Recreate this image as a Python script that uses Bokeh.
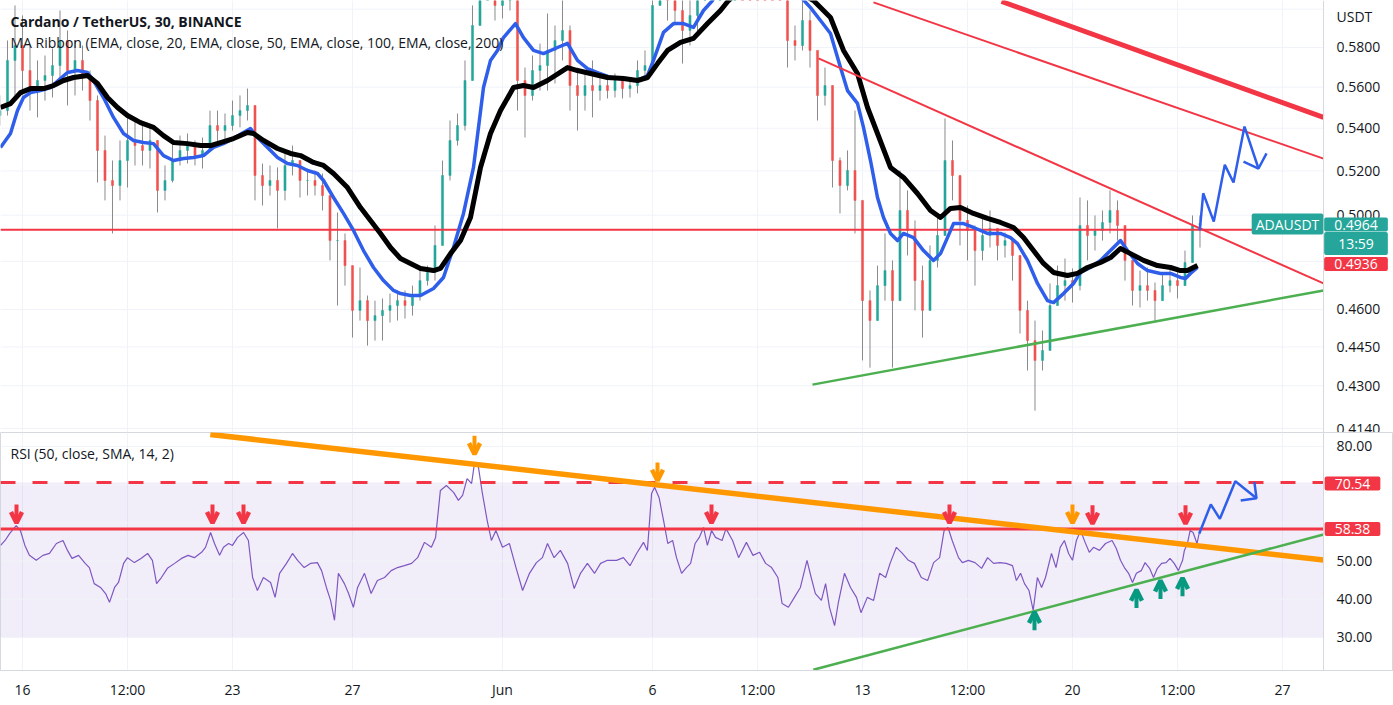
from bokeh.plotting import figure
from bokeh.layouts import column
from bokeh.models import (Range1d, FixedTicker, Label, Span,
                          BoxAnnotation, Arrow, OpenHead, ColumnDataSource)
from bokeh.core.properties import value
from bokeh.embed import file_html
from bokeh.resources import INLINE

# ---------------- time axis (days since 16 May, 00:00) ----------------
x_ticks = [0, 3.5, 7, 11, 16, 21, 24.5, 28, 31.5, 35, 38.5, 42]
x_tick_labels = ["16", "12:00", "23", "27", "Jun", "6", "12:00", "13", "12:00", "20", "12:00", "27"]
X_START = -0.733     # left edge of the chart
X_AXIS = 43.367      # where the price scale begins
X_END = 45.7         # right edge of the window
X_LBL = 43.8         # where price-scale labels start

# ---------------- price candles (6-hour steps) ----------------
candle_t = [round(-0.75 + 0.25 * i, 2) for i in range(161)]
first_open = 0.5461
candle_close = [
    .5485, .5734, .5810, .5683, .5583, .5633, .5658, .5708, .5836, .5683,
    .5734, .5658, .5534, .5295, .5156, .5133, .5248, .5342, .5318, .5295,
    .5342, .5111, .5156, .5248, .5295, .5318, .5271, .5295, .5413, .5389,
    .5413, .5461, .5485, .5510, .5179, .5133, .5156, .5111, .5225, .5248,
    .5156, .5156, .5133, .5088, .4889, .4889, .4782, .4596, .4636, .4555,
    .4575, .4596, .4616, .4636, .4616, .4657, .4719, .4753, .4868, .5179,
    .5342, .5413, .5633, .5914, .6073, .6154, .6020, .6073, .6100, .5633,
    .5559, .5683, .5708, .5785, .5836, .5888, .5608, .5559, .5608, .5583,
    .5608, .5583, .5633, .5593, .5608, .5683, .5708, .6020, .6154, .6046,
    .5993, .5888, .5967, .6046, .6264, .6320, .6348, .6376, .6376, .6348,
    .6320, .6292, .6264, .6209, .6154, .5836, .5810, .5940, .5785, .5559,
    .5608, .5248, .5133, .5202, .5066, .4636, .4555, .4698, .4761, .4636,
    .5021, .4933, .4719, .4596, .4804, .4911, .5248, .5179, .4977, .4933,
    .4846, .4911, .4942, .4868, .4889, .4825, .4596, .4475, .4397, .4436,
    .4616, .4698, .4719, .4698, .4955, .4911, .4933, .4968, .5021, .4955,
    .4804, .4678, .4698, .4678, .4636, .4698, .4719, .4698, .4795, .4955,
    .4964]
candle_high = [
    .5559, .5836, .6020, .5967, .5810, .5734, .5759, .5795, .5993, .5888,
    .5836, .5810, .5683, .5559, .5365, .5248, .5342, .5452, .5437, .5413,
    .5404, .5342, .5225, .5327, .5365, .5375, .5342, .5356, .5485, .5485,
    .5471, .5534, .5559, .5593, .5510, .5234, .5225, .5216, .5295, .5318,
    .5248, .5211, .5202, .5188, .5088, .5012, .4920, .4761, .4774, .4657,
    .4636, .4645, .4665, .4678, .4678, .4698, .4774, .4782, .4955, .5248,
    .5437, .5471, .5734, .6020, .6209, .6292, .6237, .6209, .6264, .6154,
    .5698, .5759, .5820, .5977, .5914, .6073, .5914, .5698, .5683, .5734,
    .5668, .5658, .5668, .5643, .5638, .5734, .5785, .6127, .6264, .6209,
    .6154, .6100, .6127, .6209, .6348, .6404, .6433, .6461, .6461, .6433,
    .6404, .6376, .6348, .6292, .6237, .6046, .5914, .6046, .5993, .5785,
    .5698, .5559, .5262, .5295, .5485, .4933, .4678, .4782, .4920, .4804,
    .5202, .5111, .4977, .4782, .4868, .4999, .5447, .5342, .5156, .5043,
    .4955, .4999, .5021, .4933, .4924, .4898, .4804, .4636, .4555, .4515,
    .4707, .4782, .4812, .4770, .5079, .5066, .4999, .5021, .5111, .5066,
    .4946, .4782, .4761, .4774, .4711, .4749, .4782, .4761, .4846, .4999,
    .4999]
candle_low = [
    .5413, .5461, .5534, .5559, .5485, .5452, .5534, .5549, .5633, .5510,
    .5559, .5583, .5437, .5147, .5066, .4920, .5066, .5124, .5225, .5225,
    .5211, .5012, .5066, .5147, .5225, .5234, .5225, .5211, .5295, .5332,
    .5327, .5389, .5404, .5437, .5066, .5043, .5088, .4942, .5066, .5179,
    .5079, .5088, .5088, .5021, .4804, .4616, .4698, .4487, .4555, .4455,
    .4475, .4475, .4547, .4555, .4563, .4575, .4636, .4698, .4719, .4933,
    .5156, .5318, .5389, .5683, .5967, .6073, .5940, .5951, .5993, .5485,
    .5356, .5534, .5583, .5583, .5618, .5734, .5485, .5389, .5485, .5452,
    .5534, .5544, .5549, .5544, .5549, .5569, .5633, .5683, .6046, .5940,
    .5914, .5718, .5810, .5862, .6182, .6237, .6264, .6292, .6292, .6264,
    .6237, .6209, .6182, .6127, .6073, .5698, .5734, .5785, .5698, .5437,
    .5510, .5124, .5008, .5111, .4920, .4397, .4369, .4555, .4636, .4369,
    .4782, .4825, .4596, .4487, .4636, .4774, .4955, .5066, .4868, .4804,
    .4698, .4804, .4859, .4804, .4816, .4719, .4503, .4358, .4206, .4358,
    .4455, .4616, .4636, .4628, .4678, .4804, .4846, .4889, .4920, .4889,
    .4719, .4616, .4608, .4636, .4555, .4636, .4670, .4645, .4698, .4804,
    .4859]

# ---------------- MA ribbon lines ----------------
blue_t = [-0.733, -0.4, -0.167, 0.033, 0.267, 0.6, 0.933, 1.267, 1.5, 1.833,
          2.167, 2.367, 2.7, 3.033, 3.367, 3.7, 4.033, 4.367, 4.7, 5.033,
          5.367, 5.7, 6.033, 6.367, 6.7, 7.033, 7.367, 7.6, 7.833, 8.167,
          8.5, 8.833, 9.167, 9.5, 9.833, 10.033, 10.367, 10.7, 11.033, 11.367,
          11.7, 12.033, 12.367, 12.6, 12.933, 13.267, 13.7, 14.033, 14.367, 14.7,
          15.033, 15.367, 15.6, 15.833, 16.033, 16.433, 16.7, 17.033, 17.367, 17.833,
          18.167, 18.5, 18.833, 19.167, 19.6, 20.033, 20.5, 20.833, 21.033, 21.367,
          21.7, 22.033, 22.367, 22.7, 23.0, 23.433, 24.1, 24.767, 25.6, 26.267,
          26.6, 26.933, 27.267, 27.5, 27.833, 28.033, 28.267, 28.5, 28.7, 28.933,
          29.167, 29.367, 29.7, 30.033, 30.367, 30.6, 30.833, 31.033, 31.367, 31.7,
          32.167, 32.6, 32.933, 33.167, 33.5, 33.833, 34.167, 34.367, 34.7, 35.033,
          35.267, 35.6, 35.933, 36.367, 36.6, 36.833, 37.167, 37.5, 37.933, 38.267,
          38.6, 38.767, 38.933, 39.167]
blue_p = [.5309, .5375, .5485, .5549, .5573, .5583, .5598, .5643, .5673, .5683,
          .5673, .5633, .5549, .5452, .5375, .5342, .5332, .5327, .5271, .5248,
          .5257, .5262, .5271, .5309, .5327, .5351, .5380, .5399, .5356, .5309,
          .5262, .5234, .5225, .5202, .5188, .5156, .5079, .5008, .4933, .4846,
          .4774, .4719, .4678, .4665, .4657, .4657, .4686, .4732, .4859, .5008,
          .5216, .5598, .5734, .5785, .5851, .5924, .5851, .5785, .5769, .5800,
          .5821, .5734, .5693, .5673, .5648, .5643, .5633, .5658, .5734, .5878,
          .5924, .5924, .5904, .5993, .6046, .6154, .6237, .6209, .6127, .6008,
          .5940, .5872, .5698, .5583, .5520, .5404, .5248, .5079, .4990, .4920,
          .4889, .4920, .4902, .4846, .4804, .4833, .4902, .4963, .4963, .4946,
          .4920, .4920, .4902, .4876, .4804, .4707, .4636, .4628, .4665, .4707,
          .4753, .4774, .4804, .4859, .4889, .4846, .4791, .4761, .4749, .4749,
          .4732, .4728, .4749, .4774]
black_t = [-0.733, -0.4, -0.067, 0.267, 0.7, 1.033, 1.367, 1.7, 2.167, 2.5,
           2.833, 3.167, 3.5, 3.933, 4.367, 4.7, 5.033, 5.5, 5.933, 6.267,
           6.6, 7.033, 7.5, 7.7, 8.033, 8.5, 8.933, 9.267, 9.7, 10.033,
           10.367, 10.833, 11.267, 11.6, 11.933, 12.267, 12.6, 12.933, 13.267, 13.7,
           13.933, 14.267, 14.6, 14.933, 15.267, 15.6, 15.933, 16.367, 16.7, 17.033,
           17.5, 18.167, 18.5, 18.933, 19.5, 20.033, 20.5, 20.833, 21.167, 21.5,
           21.933, 22.367, 22.833, 23.267, 23.533, 24.1, 24.933, 25.767, 26.367, 26.933,
           27.367, 27.833, 28.167, 28.5, 28.933, 29.367, 29.833, 30.267, 30.6, 30.933,
           31.267, 31.7, 32.167, 32.6, 33.033, 33.367, 33.7, 34.033, 34.367, 34.833,
           35.167, 35.5, 35.933, 36.267, 36.6, 36.933, 37.367, 37.833, 38.267, 38.6,
           38.833, 39.167]
black_p = [.5500, .5519, .5573, .5593, .5593, .5608, .5633, .5648, .5658, .5618,
           .5549, .5500, .5461, .5427, .5404, .5365, .5332, .5327, .5318, .5318,
           .5332, .5351, .5380, .5375, .5342, .5304, .5281, .5271, .5239, .5225,
           .5188, .5124, .5034, .4977, .4920, .4859, .4812, .4791, .4770, .4761,
           .4770, .4833, .4889, .4990, .5216, .5375, .5485, .5598, .5608, .5598,
           .5633, .5698, .5683, .5668, .5648, .5643, .5633, .5648, .5718, .5785,
           .5826, .5847, .5924, .5993, .6046, .6127, .6154, .6100, .6046, .5956,
           .5785, .5668, .5500, .5375, .5216, .5170, .5097, .5021, .4990, .5030,
           .5034, .5008, .4986, .4968, .4946, .4902, .4846, .4791, .4753, .4740,
           .4749, .4774, .4795, .4816, .4855, .4833, .4804, .4782, .4774, .4761,
           .4761, .4782]

# ---------------- drawings on the price pane ----------------
h_level_price = 0.4936
last_price = 0.4964
red_line_a_t, red_line_a_p = [26.533, 43.367], [0.5744, 0.4707]
red_line_b_t, red_line_b_p = [28.367, 43.367], [0.6036, 0.5257]
red_line_c_t, red_line_c_p = [32.633, 43.367], [0.6041, 0.5452]
green_line_t, green_line_p = [26.333, 43.367], [0.4304, 0.4678]
fc_price_t = [39.243, 39.357, 39.71, 40.077, 40.367, 40.733, 41.2]
fc_price_p = [0.4933, 0.5098, 0.4972, 0.5228, 0.5147, 0.5408, 0.5211]
fc_price_head_t = [40.7, 41.2, 41.467]
fc_price_head_p = [0.5243, 0.5211, 0.5281]

price_ticks = [0.58, 0.56, 0.54, 0.52, 0.50, 0.46, 0.445, 0.43, 0.414]
price_tick_labels = ["0.5800", "0.5600", "0.5400", "0.5200", "0.5000",
                     "0.4600", "0.4450", "0.4300", "0.4140"]
price_grid = [0.60, 0.58, 0.56, 0.54, 0.52, 0.50, 0.48, 0.46, 0.445, 0.43, 0.414]
P_LO, P_HI = 0.41254, 0.60463

# ---------------- RSI ----------------
rsi_t = [-0.73, -0.58, -0.43, -0.21, -0.07, 0.08, 0.23, 0.46, 0.68, 0.90,
         1.13, 1.35, 1.50, 1.65, 1.87, 2.09, 2.23, 2.39, 2.60, 2.77,
         2.90, 3.07, 3.20, 3.37, 3.50, 3.73, 3.95, 4.17, 4.33, 4.47,
         4.63, 4.83, 5.07, 5.30, 5.52, 5.73, 5.97, 6.10, 6.27, 6.40,
         6.57, 6.70, 6.87, 7.00, 7.17, 7.37, 7.53, 7.67, 7.83, 8.03,
         8.27, 8.42, 8.57, 8.80, 9.00, 9.17, 9.39, 9.60, 9.83, 9.97,
         10.13, 10.27, 10.40, 10.53, 10.73, 10.87, 11.03, 11.17, 11.40, 11.62,
         11.83, 12.07, 12.29, 12.50, 12.73, 12.97, 13.17, 13.40, 13.63, 13.77,
         13.93, 14.13, 14.37, 14.53, 14.67, 14.82, 14.97, 15.07, 15.20, 15.33,
         15.49, 15.63, 15.78, 16.00, 16.23, 16.45, 16.67, 16.90, 17.13, 17.33,
         17.50, 17.72, 17.93, 18.17, 18.39, 18.60, 18.83, 19.07, 19.27, 19.50,
         19.80, 20.03, 20.25, 20.47, 20.70, 20.83, 20.97, 21.07, 21.22, 21.37,
         21.51, 21.67, 21.80, 21.97,
         22.13, 22.27, 22.42, 22.56, 22.70, 22.83, 22.97, 23.10, 23.32, 23.45,
         23.67, 23.87, 24.13, 24.35, 24.57, 24.77, 24.97, 25.18, 25.32, 25.53,
         25.73, 25.93, 26.15, 26.29, 26.43, 26.63, 26.77, 26.90, 27.07, 27.19,
         27.40, 27.60, 27.80, 27.95, 28.16, 28.37, 28.57, 28.77, 28.92, 29.13,
         29.33, 29.53, 29.73, 29.96, 30.17, 30.37, 30.57, 30.72, 30.85, 30.99,
         31.20, 31.33, 31.53, 31.75, 31.97, 32.17, 32.37, 32.58, 32.79, 33.00,
         33.13, 33.27, 33.40, 33.55, 33.69, 33.83, 33.97, 34.10, 34.30, 34.45,
         34.59, 34.73, 34.87, 35.00, 35.13, 35.27, 35.42, 35.56, 35.70, 35.90,
         36.10, 36.32, 36.46, 36.60, 36.73, 36.87, 37.00, 37.13, 37.29, 37.42,
         37.57, 37.70, 37.83, 37.97, 38.12, 38.25, 38.39, 38.53, 38.67, 38.73,
         38.83, 38.92, 39.02, 39.15, 39.22]
rsi_v = [54.1, 55.4, 57.2, 59.3, 58.0, 54.1, 51.5, 50.2, 51.5, 52.0,
         54.6, 55.4, 52.8, 50.7, 51.5, 49.4, 48.3, 44.1, 43.1, 41.5,
         39.2, 43.1, 44.4, 49.4, 50.9, 49.6, 50.7, 52.0, 50.2, 44.1,
         45.7, 48.1, 49.4, 50.7, 51.5, 50.9, 52.3, 53.6, 57.5, 54.6,
         51.5, 53.6, 54.6, 54.1, 56.2, 57.5, 55.4, 45.7, 42.3, 45.7,
         44.4, 40.5, 46.8, 49.4, 52.0, 50.2, 48.3, 49.4, 49.6, 47.5,
         43.1, 39.7, 34.5, 46.8, 44.1, 41.5, 37.9, 43.1, 46.8, 41.5,
         44.9, 45.7, 47.5, 48.3, 48.8, 49.4, 50.9, 54.9, 53.6, 56.2,
         68.5, 69.8, 68.0, 65.9, 67.2, 71.6, 70.3, 75.8, 74.5, 67.7,
         60.6, 55.4, 58.0, 53.6, 54.6, 48.3, 42.3, 46.8, 49.6, 50.9,
         54.6, 50.9, 52.8, 49.4, 42.8, 46.8, 49.4, 46.8, 49.4, 50.2,
         50.2, 50.9, 48.8, 52.0, 54.9, 52.8, 67.7, 69.3, 66.6, 60.6,
         54.6, 55.4, 50.9, 46.8,
         48.3, 49.4, 54.6, 56.2, 58.8, 54.1, 58.0, 56.2, 55.4, 58.5,
         55.4, 50.9, 54.9, 51.5, 52.3, 49.4, 48.3, 45.7, 38.9, 37.9,
         40.5, 43.1, 50.2, 45.7, 41.5, 39.7, 44.1, 37.9, 33.1, 38.9,
         46.8, 43.1, 40.5, 36.5, 40.5, 39.7, 46.8, 45.7, 49.4, 53.6,
         52.0, 50.2, 49.4, 45.7, 44.9, 49.6, 50.9, 58.0, 58.8, 55.4,
         50.9, 49.6, 50.2, 49.6, 48.1, 50.9, 49.4, 49.6, 49.4, 48.8,
         44.9, 46.8, 44.1, 42.3, 37.1, 45.7, 43.1, 45.7, 52.0, 48.3,
         53.6, 55.4, 52.0, 50.2, 55.4, 58.0, 54.9, 52.3, 53.6, 52.8,
         54.6, 55.4, 53.3, 50.2, 48.3, 46.8, 44.4, 46.8, 47.5, 49.6,
         48.1, 45.7, 48.1, 49.4, 49.6, 50.7, 49.4, 47.5, 50.2, 52.8,
         54.6, 58.0, 57.5, 54.6, 57.2]
rsi_upper, rsi_mid, rsi_lower = 70.54, 58.38, 30.0
orange_t, orange_v = [6.26, 43.367], [83.14, 50.29]
rsi_green_t, rsi_green_v = [26.36, 43.367], [21.54, 56.96]
fc_rsi_t = [39.223, 39.61, 39.913, 40.427, 41.133]
fc_rsi_v = [57.15, 64.82, 61.07, 70.92, 66.47]
fc_rsi_head_t = [40.607, 41.133, 41.063]
fc_rsi_head_v = [65.86, 66.47, 70.65]
red_arrow_t = [-0.2, 6.333, 7.367, 22.967, 30.9, 35.667, 38.767]
red_arrow_v = [60.0, 60.0, 60.0, 60.0, 60.0, 59.8, 59.8]
orange_arrow_t = [15.067, 21.167, 35.0]
orange_arrow_v = [78.0, 71.0, 60.0]
green_arrow_t = [33.733, 37.133, 37.933, 38.667]
green_arrow_v = [36.7, 42.5, 44.9, 45.6]
rsi_ticks = [80, 50, 40, 30]
rsi_tick_labels = ["80.00", "50.00", "40.00", "30.00"]
rsi_grid = [30, 40, 50, 60, 70, 80]
R_LO, R_HI = 21.36, 83.66

# ---------------- styling ----------------
FONT = "Open Sans"
TXT = "#131722"
GRID = "#f0f3fa"
BORDER = "#d6d9e0"
UP, DOWN, WICK = "#26a69a", "#ef5350", "#8a8a8a"
RED, ORANGE, GREEN, TEAL = "#f23645", "#ff9800", "#4caf50", "#089981"
BLUE = "#2f5fea"

xr = Range1d(X_START, X_END)


def lab(fig, x, y, text, size="14px", style="normal", color=TXT, align="left", bg=None, pad=0):
    kw = dict(x=x, y=y, x_units="screen", y_units="screen", text=text,
              text_font=FONT, text_font_size=size, text_font_style=style,
              text_color=color, text_align=align, text_baseline="middle")
    if bg is not None:
        kw.update(background_fill_color=bg, background_fill_alpha=1.0, padding=pad,
                  border_radius=2)
    fig.add_layout(Label(**kw))


def axis_text(fig, ys, texts):
    fig.text(x=[X_LBL] * len(ys), y=ys, text=texts, text_font=value(FONT),
             text_font_size="14px", text_color=TXT, text_align="left",
             text_baseline="middle")


# ---------------- price pane ----------------
p1 = figure(width=1393, height=432, x_range=xr, y_range=Range1d(P_LO, P_HI),
            y_axis_type="log", y_axis_location=None, x_axis_location=None,
            toolbar_location=None, output_backend="svg",
            min_border_left=0, min_border_right=0, min_border_top=0, min_border_bottom=0)
p1.outline_line_color = None
p1.background_fill_color = "white"
p1.border_fill_color = "white"
p1.ygrid.visible = False
p1.xgrid.ticker = FixedTicker(ticks=x_ticks)
p1.xgrid.grid_line_color = GRID
p1.segment(x0=X_START, x1=X_AXIS, y0=price_grid, y1=price_grid, line_color=GRID, line_width=1)
p1.add_layout(Span(location=X_AXIS, dimension="height", line_color=BORDER, line_width=1))

opens = [first_open] + candle_close[:-1]
highs = [max(h, o, c) for h, o, c in zip(candle_high, opens, candle_close)]
lows = [min(l, o, c) for l, o, c in zip(candle_low, opens, candle_close)]
colors = [UP if c >= o else DOWN for o, c in zip(opens, candle_close)]
src = ColumnDataSource(dict(t=candle_t, h=highs, l=lows,
                            top=[max(o, c) for o, c in zip(opens, candle_close)],
                            bot=[min(o, c) for o, c in zip(opens, candle_close)],
                            col=colors))
p1.segment(x0="t", y0="l", x1="t", y1="h", source=src, line_color=WICK, line_width=1)
p1.vbar(x="t", width=0.07, top="top", bottom="bot", source=src,
        fill_color="col", line_color="col", line_width=0.5)

p1.segment(x0=X_START, x1=X_AXIS, y0=h_level_price, y1=h_level_price, line_color=RED, line_width=2)
p1.line(blue_t, blue_p, line_color=BLUE, line_width=3.5, line_join="round")
p1.line(black_t, black_p, line_color="black", line_width=5, line_join="round")
p1.line(red_line_a_t, red_line_a_p, line_color=RED, line_width=2)
p1.line(red_line_b_t, red_line_b_p, line_color=RED, line_width=2)
p1.line(red_line_c_t, red_line_c_p, line_color=RED, line_width=5)
p1.line(green_line_t, green_line_p, line_color=GREEN, line_width=2.5)
p1.line(fc_price_t, fc_price_p, line_color=BLUE, line_width=2.5)
p1.line(fc_price_head_t, fc_price_head_p, line_color=BLUE, line_width=2.5)

axis_text(p1, price_ticks, price_tick_labels)

lab(p1, 10, 432 - 21, "Cardano / TetherUS, 30, BINANCE", style="bold")
lab(p1, 10, 432 - 42, "MA Ribbon (EMA, close, 20, EMA, close, 50, EMA, close, 100, EMA, close, 200)")
lab(p1, 1336, 432 - 16, "USDT")
lab(p1, 1287, 432 - 223.5, "ADAUSDT", color="white", align="center", bg=UP, pad=(4, 1))
lab(p1, 1355.5, 432 - 243, "13:59", color="white", align="center", bg=UP, pad=(14, 2))
lab(p1, 1355.5, 432 - 224, f"{last_price:.4f}", color="white", align="center", bg=UP, pad=(10, 2))
lab(p1, 1355.5, 432 - 263.5, f"{h_level_price:.4f}", color="white", align="center", bg=RED, pad=(10, 2))

# ---------------- RSI pane ----------------
p2 = figure(width=1393, height=273, x_range=xr, y_range=Range1d(R_LO, R_HI),
            y_axis_location=None, toolbar_location=None, output_backend="svg",
            min_border_left=0, min_border_right=0, min_border_top=0, min_border_bottom=35)
p2.outline_line_color = BORDER
p2.background_fill_color = "white"
p2.border_fill_color = "white"
p2.ygrid.visible = False
p2.xgrid.ticker = FixedTicker(ticks=x_ticks)
p2.xgrid.grid_line_color = GRID
p2.segment(x0=X_START, x1=X_AXIS, y0=rsi_grid, y1=rsi_grid, line_color=GRID, line_width=1)
p2.add_layout(Span(location=X_AXIS, dimension="height", line_color=BORDER, line_width=1))

p2.add_layout(BoxAnnotation(bottom=rsi_lower, top=rsi_upper, right=X_AXIS, fill_color="#7e57c2",
                            fill_alpha=0.1, line_color=None, level="underlay"))
p2.line(rsi_t, rsi_v, line_color="#7e57c2", line_width=1.2)
p2.segment(x0=X_START, x1=X_AXIS, y0=rsi_upper, y1=rsi_upper, line_color=RED, line_width=3,
           line_dash="15 17")
p2.segment(x0=X_START, x1=X_AXIS, y0=rsi_mid, y1=rsi_mid, line_color=RED, line_width=3)
p2.line(orange_t, orange_v, line_color=ORANGE, line_width=5.5)
p2.line(rsi_green_t, rsi_green_v, line_color=GREEN, line_width=2.5)
p2.line(fc_rsi_t, fc_rsi_v, line_color=BLUE, line_width=2.5)
p2.line(fc_rsi_head_t, fc_rsi_head_v, line_color=BLUE, line_width=2.5)

ARROW_LEN = 4.8


def add_arrows(ts, vs, color, down=True):
    for t, v in zip(ts, vs):
        start = v + ARROW_LEN if down else v - ARROW_LEN
        p2.add_layout(Arrow(x_start=t, y_start=start, x_end=t, y_end=v,
                            line_color=color, line_width=4,
                            end=OpenHead(size=11, line_color=color, line_width=4.5)))


add_arrows(red_arrow_t, red_arrow_v, RED, down=True)
add_arrows(orange_arrow_t, orange_arrow_v, ORANGE, down=True)
add_arrows(green_arrow_t, green_arrow_v, TEAL, down=False)

axis_text(p2, rsi_ticks, rsi_tick_labels)

p2.xaxis.ticker = FixedTicker(ticks=x_ticks)
p2.xaxis.major_label_overrides = {t: s for t, s in zip(x_ticks, x_tick_labels)}
for ax in p2.xaxis:
    ax.axis_line_color = BORDER
    ax.major_tick_line_color = None
    ax.minor_tick_line_color = None
    ax.major_tick_out = 0
    ax.major_label_text_font = FONT
    ax.major_label_text_font_size = "14px"
    ax.major_label_text_color = TXT
    ax.major_label_standoff = 9

lab(p2, 10, 238 - 21, "RSI (50, close, SMA, 14, 2)")
lab(p2, 1352, 238 - 51, f"{rsi_upper:.2f}", color="white", align="center", bg=RED, pad=(10, 2))
lab(p2, 1352, 238 - 96.5, f"{rsi_mid:.2f}", color="white", align="center", bg=RED, pad=(10, 2))

layout = column(p1, p2, spacing=0)
open("out.html", "w").write(file_html(layout, INLINE))
